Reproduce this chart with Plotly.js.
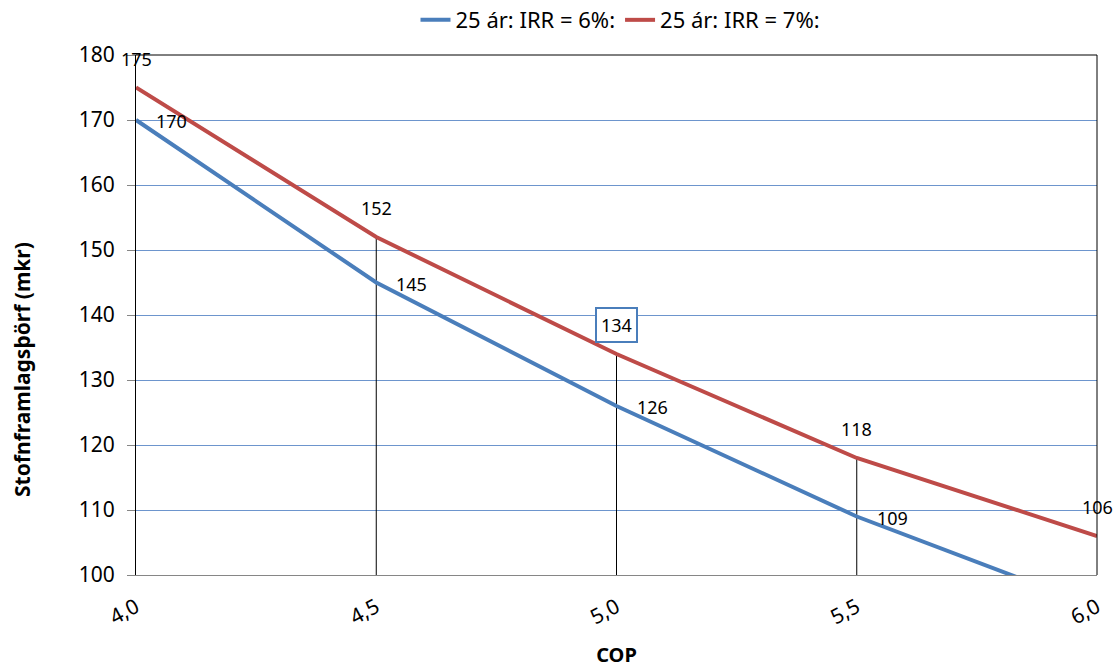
<!DOCTYPE html>
<html><head><meta charset="utf-8">
<script src="https://cdn.plot.ly/plotly-3.0.1.min.js"></script>
<style>body{margin:0;background:#fff}#c{width:1114px;height:668px}</style>
</head><body><div id="c"></div>
<script>
var cop = [4.0, 4.5, 5.0, 5.5, 6.0];
var irr6 = [170, 145, 126, 109, 95];
var irr7 = [175, 152, 134, 118, 106];
var name6 = '25 ár: IRR = 6%:';
var name7 = '25 ár: IRR = 7%:';
var dropX = [4.5, 5.0, 5.5];
var yTitle = 'Stofnframlagsþörf (mkr)';
var xTitle = 'COP';
var yMin = 100, yMax = 180;

var blue = '#4a7ebb', red = '#be4b48';

var dx = [], dy = [];
dropX.forEach(function(x){ var i = cop.indexOf(x); dx.push(x, x, null); dy.push(yMin, irr7[i], null); });

var traces = [
  {x: dx, y: dy, mode: 'lines', line: {color: '#000', width: 1}, showlegend: false, hoverinfo: 'skip'},
  {x: cop, y: irr6, name: name6, mode: 'lines', line: {color: blue, width: 4}},
  {x: cop, y: irr7, name: name7, mode: 'lines', line: {color: red, width: 4}}
];

var ff = 'Noto Sans, Open Sans, sans-serif';
var font = {family: ff, color: '#000'};
var ann = [];
[0, 1, 2, 3].forEach(function(i){
  ann.push({x: cop[i], y: irr6[i], text: String(irr6[i]), showarrow: false, xanchor: 'left', xshift: 18, yshift: -1, font: {size: 18, family: ff, color: '#000'}});
});
cop.forEach(function(x, i){
  var a = {x: x, y: irr7[i], text: String(irr7[i]), showarrow: false, yshift: 29, font: {size: 18, family: ff, color: '#000'}};
  if (i === 2) { a.bordercolor = blue; a.borderwidth = 2; a.borderpad = 4; a.bgcolor = '#fff'; }
  ann.push(a);
});
ann.push({xref: 'paper', yref: 'paper', x: (22 - 136) / 961, y: (575 - 370) / 520, text: '<b>' + yTitle + '</b>', textangle: -90,
          showarrow: false, xanchor: 'center', yanchor: 'middle', font: {size: 21, family: ff, color: '#000'}});

var layout = {
  width: 1114, height: 668,
  margin: {l: 136, r: 17, t: 55, b: 93, autoexpand: false},
  paper_bgcolor: '#fff', plot_bgcolor: '#fff',
  separators: ',.',
  font: font,
  showlegend: true,
  legend: {orientation: 'h', xref: 'container', yref: 'container', x: 0.557, xanchor: 'center', y: 0.97, yanchor: 'middle',
           font: {size: 22, family: ff}, traceorder: 'normal', itemwidth: 30, tracegroupgap: 0},
  xaxis: {range: [4.0, 6.0], tickvals: cop, tickformat: '.1f', tickangle: -28, showgrid: false, zeroline: false,
          showline: true, linecolor: '#868686', linewidth: 1, ticks: 'outside', ticklen: 11, tickcolor: 'rgba(0,0,0,0)', tickfont: {size: 21},
          title: {text: '<b>' + xTitle + '</b>', font: {size: 20}, standoff: 20}},
  yaxis: {range: [yMin, yMax], dtick: 10, showgrid: true, gridcolor: '#6d95cd', gridwidth: 1, zeroline: false,
          showline: true, linecolor: '#000', linewidth: 1, ticks: 'outside', ticklen: 8, tickcolor: '#868686', tickfont: {size: 21},
          ticklabelstandoff: 8},
  shapes: [
    {type: 'line', xref: 'paper', yref: 'paper', x0: 0, x1: 1, y0: 1, y1: 1, line: {color: '#000', width: 1}},
    {type: 'line', xref: 'paper', yref: 'paper', x0: 1, x1: 1, y0: 0, y1: 1, line: {color: '#000', width: 1}}
  ],
  annotations: ann
};
Plotly.newPlot('c', traces, layout, {displayModeBar: false, staticPlot: true});
</script></body></html>
